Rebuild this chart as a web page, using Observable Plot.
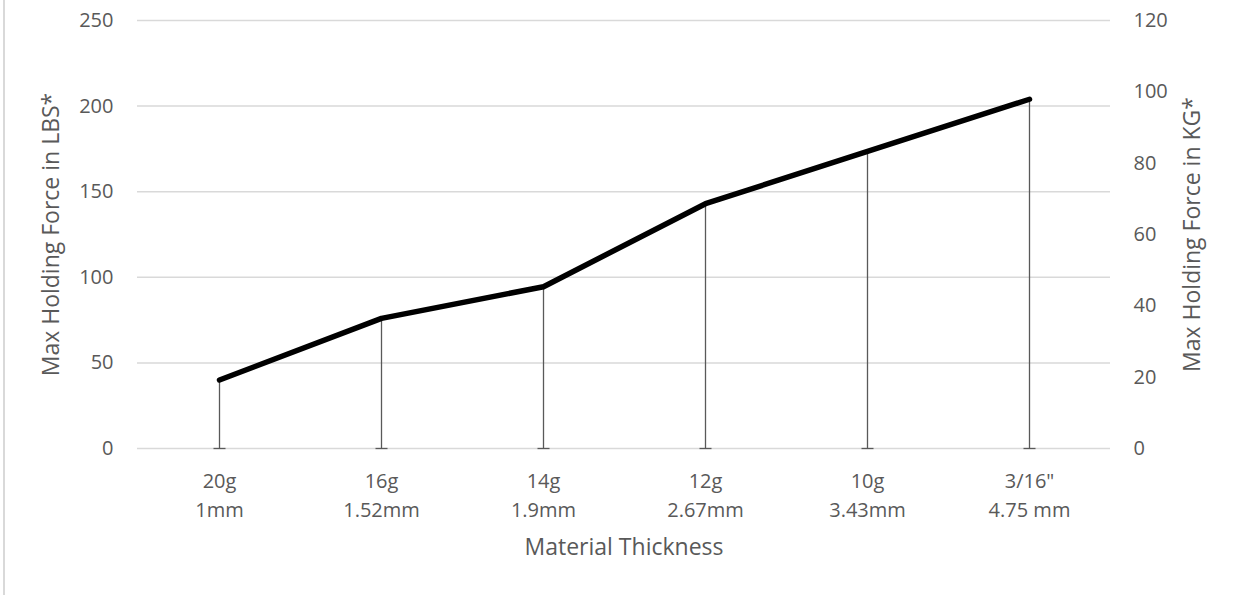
<!DOCTYPE html>
<html>
<head>
<meta charset="utf-8">
<script src="https://cdn.jsdelivr.net/npm/d3@7"></script>
<script src="https://cdn.jsdelivr.net/npm/@observablehq/plot@0.6"></script>
<style>
  html, body { margin: 0; padding: 0; background: #fff; }
  #wrap { position: relative; width: 1241px; height: 595px; }
  #border { position: absolute; left: 3px; top: 0; width: 2px; height: 595px; background: #d9d9d9; }
</style>
</head>
<body>
<div id="wrap"><div id="border"></div></div>
<script>
// Data
const gauges = ["20g", "16g", "14g", "12g", "10g", "3/16\""];
const metric = ["1mm", "1.52mm", "1.9mm", "2.67mm", "3.43mm", "4.75 mm"];
const lbs = [40, 76, 94.5, 143, 173.5, 204];
const lbsTicks = [0, 50, 100, 150, 200, 250];
const kgTicks = [0, 20, 40, 60, 80, 100, 120];
const lbsMax = 250;
const kgMax = 120;

const data = gauges.map((g, i) => ({cat: g, lbs: lbs[i]}));
const ink = "#595959";
const tickFont = 20;
const titleFont = 23;

// horizontal cap symbol for the drop lines
const hcap = {
  draw(context, size) {
    const w = Math.sqrt(size / Math.PI);
    context.moveTo(-w, 0);
    context.lineTo(w, 0);
  }
};

const chart = Plot.plot({
  width: 1241,
  height: 595,
  marginLeft: 137,
  marginRight: 131,
  marginTop: 20,
  marginBottom: 147,
  style: {fontFamily: "'Open Sans', sans-serif", fontSize: "20px", color: ink, background: "transparent"},
  x: {type: "point", domain: gauges, padding: 0.5},
  y: {domain: [0, lbsMax]},
  marks: [
    Plot.gridY(lbsTicks, {stroke: "#d9d9d9", strokeOpacity: 1, strokeWidth: 1.5}),
    Plot.ruleX(data, {x: "cat", y1: 0, y2: "lbs", stroke: ink, strokeWidth: 1.3}),
    Plot.dot(data, {x: "cat", y: () => 0, r: 6, symbol: hcap, fill: "none", stroke: ink, strokeWidth: 1.3}),
    Plot.line(data, {x: "cat", y: "lbs", stroke: "black", strokeWidth: 5.5, strokeLinecap: "round"}),
    Plot.axisY(lbsTicks, {anchor: "left", tickSize: 0, tickPadding: 24, label: null, fontSize: tickFont, fill: ink}),
    Plot.axisY(kgTicks.map(k => k * lbsMax / kgMax), {
      anchor: "right", tickSize: 0, tickPadding: 23, label: null, fontSize: tickFont, fill: ink,
      tickFormat: d => String(Math.round(d * kgMax / lbsMax))
    }),
    Plot.axisX({
      tickSize: 0, tickPadding: 19, label: null, lineHeight: 1.45, fontSize: tickFont, fill: ink,
      tickFormat: (d) => { const i = gauges.indexOf(d); return gauges[i] + "\n" + metric[i]; }
    }),
    Plot.text(["Material Thickness"], {frameAnchor: "bottom", dy: 99, lineAnchor: "middle", textAnchor: "middle", text: d => d, fontSize: titleFont, fill: ink}),
    Plot.text(["Max Holding Force in LBS*"], {frameAnchor: "left", dx: -86, rotate: -90, textAnchor: "middle", lineAnchor: "middle", text: d => d, fontSize: titleFont, fill: ink}),
    Plot.text(["Max Holding Force in KG*"], {frameAnchor: "right", dx: 82, rotate: -90, textAnchor: "middle", lineAnchor: "middle", text: d => d, fontSize: titleFont, fill: ink})
  ]
});
document.getElementById("wrap").appendChild(chart);
chart.style.position = "absolute";
chart.style.left = "0";
chart.style.top = "0";
</script>
</body>
</html>
